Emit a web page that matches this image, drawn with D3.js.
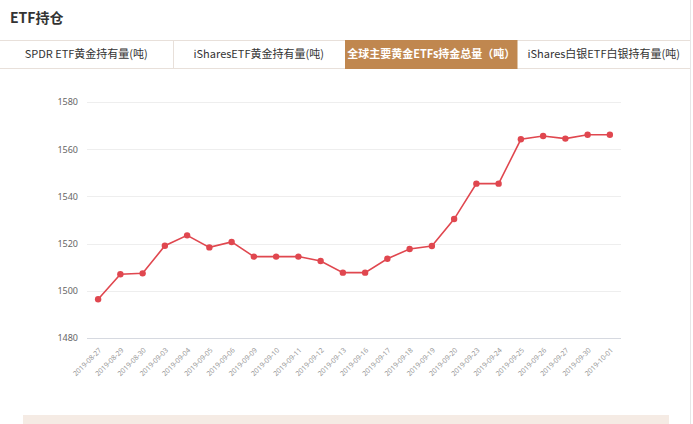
<!DOCTYPE html>
<html><head><meta charset="utf-8">
<script src="https://cdn.jsdelivr.net/npm/d3@7"></script>
<style>
html,body{margin:0;padding:0;background:#fff;}
svg{display:block;font-family:"Noto Sans CJK SC","Noto Sans",sans-serif;}
</style></head>
<body>
<svg id="c" width="693" height="424"></svg>
<script>
const dates = ["2019-08-27","2019-08-29","2019-08-30","2019-09-03","2019-09-04","2019-09-05","2019-09-06","2019-09-09","2019-09-10","2019-09-11","2019-09-12","2019-09-13","2019-09-16","2019-09-17","2019-09-18","2019-09-19","2019-09-20","2019-09-23","2019-09-24","2019-09-25","2019-09-26","2019-09-27","2019-09-30","2019-10-01"];
const holdings = [1496.4,1507.0,1507.4,1519.1,1523.5,1518.4,1520.7,1514.5,1514.5,1514.5,1512.6,1507.7,1507.7,1513.6,1517.7,1519.0,1530.4,1545.4,1545.4,1564.2,1565.6,1564.5,1566.1,1566.1];
const yTicks = [1480,1500,1520,1540,1560,1580];
const tabs = ["SPDR ETF黄金持有量(吨)","iSharesETF黄金持有量(吨)","全球主要黄金ETFs持金总量（吨）","iShares白银ETF白银持有量(吨)"];
const title = "ETF持仓";
const activeTab = 2;

const svg = d3.select("#c");

// title
svg.append("text").attr("x",10).attr("y",23).attr("font-size",14).attr("font-weight","bold").attr("fill","#333").text(title);

// tabs
const tabX = d3.scaleBand().domain(d3.range(tabs.length)).range([0,690]);
const tabTop = 40, tabH = 28;
svg.append("line").attr("x1",0).attr("x2",690).attr("y1",tabTop+0.5).attr("y2",tabTop+0.5).attr("stroke","#e8e0da");
svg.append("line").attr("x1",0).attr("x2",690).attr("y1",tabTop+tabH+0.5).attr("y2",tabTop+tabH+0.5).attr("stroke","#e8e0da");
const tg = svg.selectAll("g.tab").data(tabs).join("g").attr("class","tab");
tg.filter((d,i)=>i===activeTab).append("rect")
  .attr("x",(d,i)=>tabX(activeTab)).attr("y",tabTop).attr("width",tabX.bandwidth()).attr("height",tabH+1).attr("fill","#c0874f");
tg.filter((d,i)=>i>0 && i!==activeTab && i!==activeTab+1).append("line")
  .attr("x1",(d)=>Math.round(tabX(tabs.indexOf(d)))+0.5).attr("x2",(d)=>Math.round(tabX(tabs.indexOf(d)))+0.5)
  .attr("y1",tabTop).attr("y2",tabTop+tabH).attr("stroke","#e8e0da");
tg.append("text")
  .attr("x",(d,i)=>tabX(i)+tabX.bandwidth()/2).attr("y",tabTop+tabH/2+4)
  .attr("text-anchor","middle").attr("font-size",11)
  .attr("font-weight",(d,i)=>i===activeTab?"bold":"normal")
  .attr("fill",(d,i)=>i===activeTab?"#fff":"#333").text(d=>d);

// right edge line
svg.append("line").attr("x1",690.5).attr("x2",690.5).attr("y1",0).attr("y2",424).attr("stroke","#e6e6e6");

// chart
const x = d3.scaleBand().domain(dates).range([87,621]);
const y = d3.scaleLinear().domain([1480,1580]).range([338,102]);

const grid = svg.append("g");
grid.selectAll("line").data(yTicks).join("line")
  .attr("x1",87).attr("x2",621).attr("y1",d=>Math.round(y(d))+0.5).attr("y2",d=>Math.round(y(d))+0.5)
  .attr("stroke",d=>d===1480?"#d6d9e0":"#eeeeee");

const yAxis = d3.axisLeft(y).tickValues(yTicks).tickSize(0).tickPadding(0).tickFormat(d3.format("d"));
const ya = svg.append("g").attr("transform","translate(78,0)").call(yAxis);
ya.select(".domain").remove();
ya.selectAll("text").attr("font-size",9).attr("fill","#666").attr("font-family","'Noto Sans','DejaVu Sans',sans-serif");

const xAxis = d3.axisBottom(x).tickSize(0).tickPadding(0);
const xa = svg.append("g").attr("transform","translate(0,338)").call(xAxis);
xa.select(".domain").remove();
xa.selectAll("text")
  .attr("font-size",7).attr("fill","#999")
  .attr("text-anchor","end")
  .attr("transform","translate(2,11) rotate(-45)")
  .attr("dy","0.35em").attr("y",0).attr("x",0)
  .attr("font-family","'Noto Sans','DejaVu Sans',sans-serif");

const cx = d => x(d) + x.bandwidth()/2;
const line = d3.line().x((d,i)=>cx(dates[i])).y(d=>y(d));
svg.append("path").datum(holdings).attr("d",line).attr("fill","none").attr("stroke","#e0474f").attr("stroke-width",1.6);
svg.append("g").selectAll("circle").data(holdings).join("circle")
  .attr("cx",(d,i)=>cx(dates[i])).attr("cy",d=>y(d)).attr("r",3.2).attr("fill","#e0474f");

// bottom box
svg.append("rect").attr("x",23).attr("y",415).attr("width",646).attr("height",12).attr("fill","#f5ebe4");
</script>
</body></html>
